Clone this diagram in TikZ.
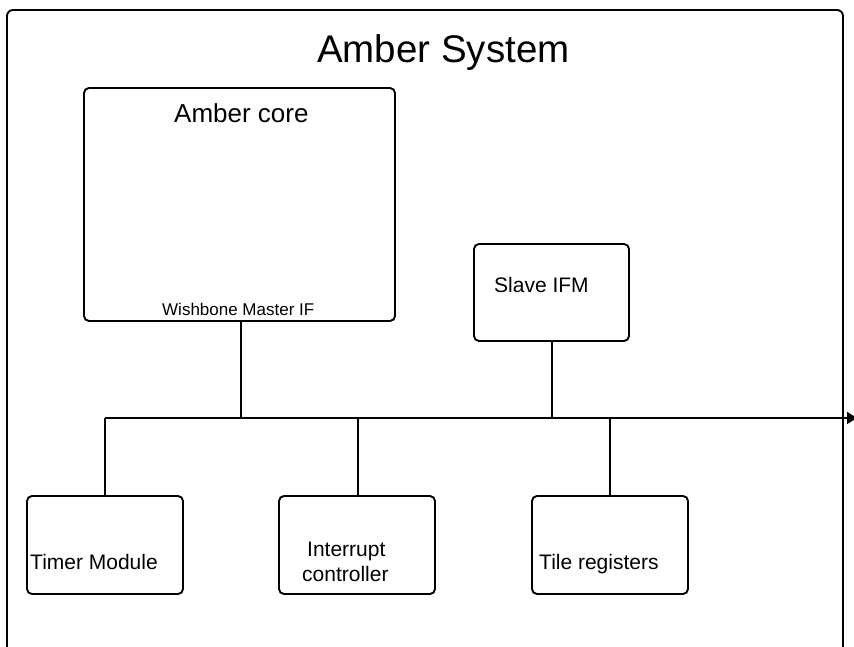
\documentclass[tikz,border=0pt]{standalone}
\usepackage{fontspec}
\setmainfont{Liberation Sans}
\usetikzlibrary{arrows.meta}
\begin{document}
\begin{tikzpicture}[x=1pt,y=-1pt,
  box/.style={draw=black,line width=1.9pt,rounded corners=5pt,inner sep=0pt},
  wire/.style={draw=black,line width=1.9pt},
  lbl/.style={anchor=base west,inner sep=0pt,text=black}]
\useasboundingbox (0,0) rectangle (854,647);
\begin{scope}
\clip (0,0) rectangle (854,647);
% system frame
\draw[line width=1.9pt,rounded corners=6pt] (7,680) -- (7,10) -- (843,10) -- (843,680);
% bus with its outgoing arrow
\coordinate (bw) at (105,418);
\coordinate (bend) at (857,418);
\draw[wire,-{Triangle[length=10pt,width=12pt]}] (bw) -- (bend);
\end{scope}
\node[lbl,font=\fontsize{38.5}{40}\selectfont] (title) at (317,63) {Amber System};

% core and slave interface
\node[box,minimum width=311pt,minimum height=233pt] (core) at (239.5,204.5) {};
\node[lbl,font=\fontsize{26}{28}\selectfont] (coret) at (174,123) {Amber core};
\node[lbl,font=\fontsize{17}{19}\selectfont] (wb) at (162,315) {Wishbone Master IF};
\node[box,minimum width=155pt,minimum height=97pt] (slave) at (551.5,292.5) {};
\node[lbl,font=\fontsize{21}{23}\selectfont] (slavet) at (494,292) {Slave IFM};

% peripherals
\node[box,minimum width=156pt,minimum height=98pt] (timer) at (105,545) {};
\node[box,minimum width=156pt,minimum height=98pt] (irq) at (357,545) {};
\node[box,minimum width=156pt,minimum height=98pt] (tile) at (610,545) {};
\node[lbl,font=\fontsize{21}{23}\selectfont] (timert) at (30,569) {Timer Module};
\node[lbl,font=\fontsize{21}{23}\selectfont] (irqt1) at (307,556) {Interrupt};
\node[lbl,font=\fontsize{21}{23}\selectfont] (irqt2) at (302,581) {controller};
\node[lbl,font=\fontsize{21}{23}\selectfont] (tilet) at (539,569) {Tile registers};

% drops from the bus
\coordinate (bcore) at (241,418);
\coordinate (bslave) at (552,418);
\coordinate (birq) at (358,418);
\coordinate (btile) at (610,418);
\draw[wire] (bcore |- core.south) -- (bcore);
\draw[wire] (bslave |- slave.south) -- (bslave);
\draw[wire] (bw) -- (timer.north);
\draw[wire] (birq) -- (birq |- irq.north);
\draw[wire] (btile) -- (tile.north);
\end{tikzpicture}
\end{document}
